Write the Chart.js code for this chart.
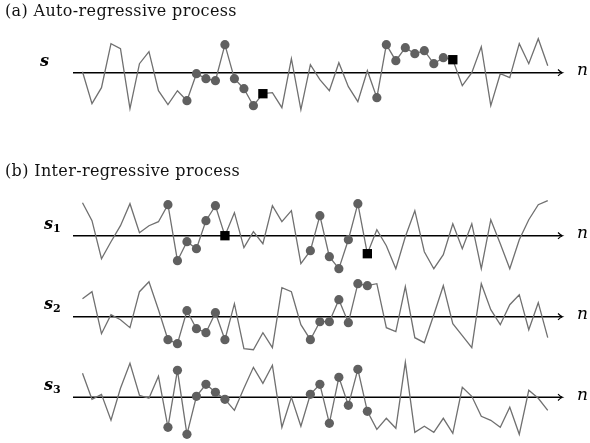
<!DOCTYPE html>
<html>
<head>
<meta charset="utf-8">
<script src="https://cdn.jsdelivr.net/npm/chart.js@4/dist/chart.umd.min.js"></script>
<style>
 body{margin:0;background:#fff;}
 #wrap{position:relative;width:590px;height:443px;}
 #c{position:absolute;left:0;top:0;}
 .t{position:absolute;font-family:"DejaVu Serif",serif;font-size:16px;letter-spacing:0.35px;color:#111;white-space:nowrap;}
 .s{position:absolute;font-family:"DejaVu Serif",serif;font-weight:bold;font-style:italic;font-size:16px;color:#000;}
 .s sub{font-style:normal;font-size:11px;vertical-align:-3px;}
 .n{position:absolute;font-family:"DejaVu Serif",serif;font-style:italic;font-size:17px;color:#000;}
</style>
</head>
<body>
<div id="wrap">
<canvas id="c" width="590" height="443"></canvas>
<div class="t" style="left:5px;top:1px">(a) Auto-regressive process</div>
<div class="t" style="left:5px;top:161px">(b) Inter-regressive process</div>
<div class="s" style="left:40px;top:51px">s</div>
<div class="s" style="left:44px;top:214px">s<sub>1</sub></div>
<div class="s" style="left:44px;top:294px">s<sub>2</sub></div>
<div class="s" style="left:44px;top:375px">s<sub>3</sub></div>
<div class="n" style="left:577px;top:59px">n</div>
<div class="n" style="left:577px;top:222px">n</div>
<div class="n" style="left:577px;top:303px">n</div>
<div class="n" style="left:577px;top:384px">n</div>
</div>
<script>
// sample index n
const n = Array.from({length:50},(_, i)=>i);

// (a) auto-regressive signal
const sA = [1,-31,-15,29,24,-36,9,21,-18,-32,-18,-28,-1,-6,-8,28,-6,-16,-33,-21,
 -20,-35,14,-37,8,-7,-18,10,-14,-29,2,-25,28,12,25,19,22,9,15,13,
 -13,0,26,-33,-1,-5,29,9,34,7];
const sACircles = [11,12,13,14,15,16,17,18,31,32,33,34,35,36,37,38];
const sASquares = [19,39];

// (b) inter-regressive signals
const s1 = [33,15,-23,-6,10,32,3,10,14,31,-25,-6,-13,15,30,0,23,-12,4,-8,
 30,14,25,-28,-15,20,-21,-33,-4,32,-18,6,-10,-33,-1,25,-16,-33,-19,12,
 -13,12,-33,16,-8,-33,-4,16,31,35];
const s1Circles = [9,10,11,12,13,14,24,25,26,27,28,29];
const s1Squares = [15,30];

const s2 = [18,25,-17,2,-3,-11,25,35,7,-23,-27,6,-12,-16,4,-23,13,-32,-33,-16,
 -31,29,25,-8,-23,-5,-5,17,-6,33,31,33,-11,-15,30,-21,-26,2,31,-7,
 -19,-31,33,7,-8,12,22,-13,14,-21];
const s2Circles = [9,10,11,12,13,14,15,24,25,26,27,28,29,30];
const s2Squares = [];

const s3 = [24,-2,3,-23,9,34,2,-1,21,-30,27,-37,1,13,5,-2,-13,9,30,14,
 32,-30,0,-29,3,13,-26,20,-8,28,-14,-32,-21,-31,35,-35,-29,-35,-21,-36,
 10,1,-19,-23,-30,-10,-37,7,-1,-13];
const s3Circles = [9,10,11,12,13,14,15,24,25,26,27,28,29,30];
const s3Squares = [];

// pixel row of each zero axis
const axisRows = [72.7, 235.7, 316.7, 397.3];
const H = 443;

function series(values, circles, squares, axisId){
  return {
    data: values,
    yAxisID: axisId,
    borderColor: 'rgb(112,112,112)',
    borderWidth: 1.3,
    tension: 0,
    clip: false,
    pointStyle: ctx => squares.includes(ctx.dataIndex) ? 'rect' : 'circle',
    pointRadius: ctx => squares.includes(ctx.dataIndex) ? 6.6 :
      (circles.includes(ctx.dataIndex) ? 4.6 : 0),
    pointBackgroundColor: ctx => squares.includes(ctx.dataIndex) ? '#000' : 'rgb(96,96,96)',
    pointBorderWidth: 0,
    pointHoverRadius: 0
  };
}

const yScales = {};
['ya','y1','y2','y3'].forEach((id,k)=>{
  yScales[id] = {type:'linear', display:false, min: axisRows[k]-H, max: axisRows[k]};
});

const axisPlugin = {
  id:'zeroAxes',
  beforeDatasetsDraw(chart){
    const ctx = chart.ctx, a = chart.chartArea;
    ctx.save();
    ctx.strokeStyle = '#000';
    ['ya','y1','y2','y3'].forEach(id=>{
      const y = chart.scales[id].getPixelForValue(0);
      ctx.lineWidth = 1.4;
      ctx.beginPath();
      ctx.moveTo(a.left, y);
      ctx.lineTo(a.right, y);
      ctx.stroke();
      ctx.lineWidth = 1.1;
      ctx.beginPath();
      ctx.moveTo(a.right-4, y-3.2);
      ctx.quadraticCurveTo(a.right-1.5, y-0.6, a.right+0.5, y);
      ctx.quadraticCurveTo(a.right-1.5, y+0.6, a.right-4, y+3.2);
      ctx.stroke();
    });
    ctx.restore();
  }
};

new Chart(document.getElementById('c'),{
  type:'line',
  data:{
    labels:n,
    datasets:[
      series(sA, sACircles, sASquares, 'ya'),
      series(s1, s1Circles, s1Squares, 'y1'),
      series(s2, s2Circles, s2Squares, 'y2'),
      series(s3, s3Circles, s3Squares, 'y3')
    ]
  },
  options:{
    responsive:false,
    animation:false,
    events:[],
    layout:{padding:{left:73,right:28,top:0,bottom:0}},
    plugins:{legend:{display:false},tooltip:{enabled:false},title:{display:false}},
    scales:Object.assign({
      x:{type:'linear', display:false, min:-1, max:50.5}
    }, yScales)
  },
  plugins:[axisPlugin]
});
</script>
</body>
</html>
